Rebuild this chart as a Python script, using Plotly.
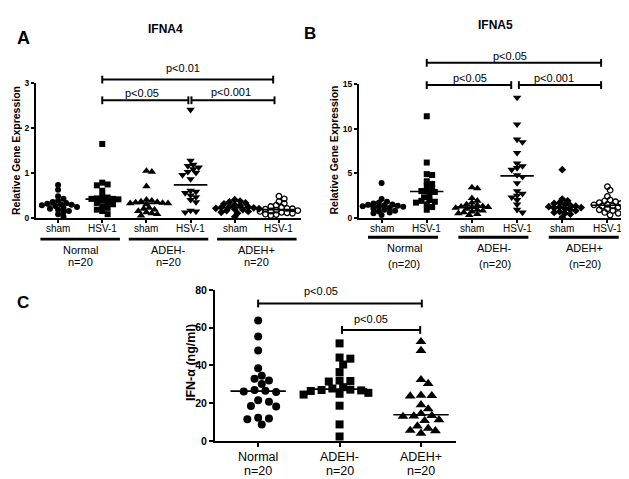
import numpy as np
import plotly.graph_objects as go

W, H = 629, 479
FONT = "Liberation Sans"

# ---------------- data ----------------
conditions = ["sham", "HSV-1"]
groups = ["Normal", "ADEH-", "ADEH+"]
n_labels_A = ["n=20", "n=20", "n=20"]
n_labels_B = ["(n=20)", "(n=20)", "(n=20)"]
c_groups = ["Normal", "ADEH-", "ADEH+"]
c_n = ["n=20", "n=20", "n=20"]

# Panel A: IFNA4 relative gene expression
ifna4_normal_sham = [0.73, 0.62, 0.48, 0.42, 0.38, 0.35, 0.33, 0.31, 0.30, 0.29,
                     0.28, 0.26, 0.24, 0.22, 0.20, 0.18, 0.15, 0.12, 0.08, 0.02]
ifna4_normal_hsv = [1.64, 0.78, 0.74, 0.72, 0.60, 0.48, 0.45, 0.43, 0.42, 0.42,
                    0.41, 0.38, 0.35, 0.33, 0.30, 0.25, 0.22, 0.18, 0.15, 0.08]
ifna4_adehm_sham = [1.04, 1.02, 0.70, 0.40, 0.38, 0.36, 0.35, 0.34, 0.33, 0.32,
                    0.32, 0.30, 0.22, 0.20, 0.18, 0.15, 0.12, 0.10, 0.08, 0.05]
ifna4_adehm_hsv = [2.40, 1.27, 1.18, 1.15, 1.12, 1.08, 1.02, 1.00, 0.95, 0.86,
                   0.60, 0.58, 0.55, 0.50, 0.46, 0.40, 0.35, 0.16, 0.14, 0.12]
ifna4_adehp_sham = [0.40, 0.37, 0.35, 0.33, 0.31, 0.29, 0.27, 0.25, 0.24, 0.23,
                    0.22, 0.21, 0.20, 0.19, 0.18, 0.16, 0.14, 0.12, 0.10, 0.02]
ifna4_adehp_hsv = [0.48, 0.42, 0.36, 0.32, 0.28, 0.25, 0.23, 0.21, 0.20, 0.19,
                   0.17, 0.16, 0.15, 0.14, 0.12, 0.11, 0.10, 0.08, 0.07, 0.05]

# Panel B: IFNA5 relative gene expression
ifna5_normal_sham = [3.9, 2.1, 1.8, 1.7, 1.6, 1.5, 1.45, 1.4, 1.35, 1.3,
                     1.25, 1.2, 1.1, 1.0, 0.9, 0.8, 0.7, 0.6, 0.5, 0.3]
ifna5_normal_hsv = [11.4, 6.2, 4.9, 4.8, 4.1, 3.8, 3.6, 3.3, 3.0, 3.0,
                    2.9, 2.6, 2.3, 2.0, 1.9, 1.8, 1.7, 1.5, 1.2, 0.9]
ifna5_adehm_sham = [3.4, 3.3, 2.2, 1.9, 1.7, 1.5, 1.4, 1.3, 1.25, 1.2,
                    1.2, 1.1, 1.0, 0.9, 0.8, 0.7, 0.6, 0.5, 0.4, 0.3]
ifna5_adehm_hsv = [13.5, 10.5, 8.8, 8.5, 7.3, 6.1, 5.8, 5.6, 5.4, 4.8,
                   4.6, 3.9, 3.0, 2.7, 2.5, 2.3, 2.0, 1.5, 0.9, 0.6]
ifna5_adehp_sham = [5.4, 2.1, 1.9, 1.7, 1.6, 1.5, 1.4, 1.3, 1.25, 1.2,
                    1.15, 1.1, 1.0, 0.9, 0.8, 0.7, 0.6, 0.5, 0.4, 0.05]
ifna5_adehp_hsv = [3.5, 3.1, 2.4, 2.0, 1.9, 1.8, 1.7, 1.6, 1.5, 1.45,
                   1.35, 1.3, 1.2, 1.1, 1.0, 0.9, 0.8, 0.6, 0.5, 0.3]

# Panel C: IFN-alpha protein (ng/ml)
ifn_normal = [63.8, 55.3, 47.9, 38.5, 34.6, 33.0, 32.0, 30.2, 27.0, 26.6,
              26.2, 26.0, 21.6, 20.8, 18.5, 18.3, 12.3, 11.9, 11.5, 8.8]
ifn_adehm = [51.7, 44.2, 43.6, 40.5, 36.5, 32.0, 31.8, 31.5, 28.5, 27.8,
             27.2, 27.0, 26.8, 26.5, 25.5, 25.0, 24.6, 18.7, 8.8, 2.4]
ifn_adehp = [52.6, 47.9, 32.5, 30.4, 24.2, 24.0, 23.8, 19.2, 17.0, 14.5,
             13.4, 13.2, 13.0, 11.2, 10.8, 7.9, 6.7, 5.6, 5.4, 4.1]

ticks_A = [0, 1, 2, 3]
ticks_B = [0, 5, 10, 15]
ticks_C = [0, 20, 40, 60, 80]

series_A = [ifna4_normal_sham, ifna4_normal_hsv, ifna4_adehm_sham,
            ifna4_adehm_hsv, ifna4_adehp_sham, ifna4_adehp_hsv]
series_B = [ifna5_normal_sham, ifna5_normal_hsv, ifna5_adehm_sham,
            ifna5_adehm_hsv, ifna5_adehp_sham, ifna5_adehp_hsv]
series_C = [ifn_normal, ifn_adehm, ifn_adehp]

# ---------------- layout geometry (pixels) ----------------
panels = {
    "A": dict(x0=28, x1=293, top=70.5, bot=209, xr=(-0.5, 5.5), yr=(0, 3), ax="", msize=6),
    "B": dict(x0=351, x1=622, top=72, bot=209, xr=(-0.5, 5.5), yr=(0, 15), ax="2", msize=6),
    "C": dict(x0=207, x1=448, top=283, bot=438, xr=(-0.53, 2.43), yr=(0, 80), ax="3", msize=8),
}


def xpx(p, x):
    return p["x0"] + (x - p["xr"][0]) / (p["xr"][1] - p["xr"][0]) * (p["x1"] - p["x0"])


def ypx(p, y):
    return p["bot"] - (y - p["yr"][0]) / (p["yr"][1] - p["yr"][0]) * (p["bot"] - p["top"])


def PX(v):
    return v / W


def PY(v):
    return 1 - v / H


def swarm(vals, d, ppu_x, ppu_y, sep):
    vals = np.asarray(vals, float)
    order = np.argsort(-vals)
    placed = []
    offs = np.zeros(len(vals))
    step = d * 0.45
    cands = [0.0]
    for k in range(1, 40):
        cands += [k * step, -k * step]
    for i in order:
        y = vals[i] * ppu_y
        c = 0.0
        for c in cands:
            if all((c - ox) ** 2 + (y - oy) ** 2 >= (d * sep) ** 2 for ox, oy in placed):
                break
        placed.append((c, y))
        offs[i] = c
    return offs / ppu_x


symbols6 = ["circle", "square", "triangle-up", "triangle-down", "diamond", "circle-open"]
symbols3 = ["circle", "square", "triangle-up"]

fig = go.Figure()
shapes = []
annotations = []


def add_points(pname, series, symbols, half, sep):
    p = panels[pname]
    ppu_x = (p["x1"] - p["x0"]) / (p["xr"][1] - p["xr"][0])
    ppu_y = (p["bot"] - p["top"]) / (p["yr"][1] - p["yr"][0])
    d = p["msize"]
    for i, vals in enumerate(series):
        offs = swarm(vals, d, ppu_x, ppu_y, sep)
        sym = symbols[i]
        is_open = sym.endswith("open")
        tri = sym.startswith("triangle")
        fig.add_trace(go.Scatter(
            x=i + offs, y=vals, mode="markers",
            xaxis="x" + p["ax"], yaxis="y" + p["ax"], cliponaxis=False,
            marker=dict(symbol=sym, size=d + (1.5 if tri else 0) - (0.5 if is_open else 0),
                        color="black",
                        line=dict(width=1.3 if is_open else 0, color="black")),
            hoverinfo="skip"))
        med = float(np.median(vals))
        fig.add_trace(go.Scatter(
            x=[i - half, i + half], y=[med, med], mode="lines",
            xaxis="x" + p["ax"], yaxis="y" + p["ax"],
            line=dict(color="black", width=1.6), hoverinfo="skip"))


add_points("A", series_A, symbols6, 0.38, 0.72)
add_points("B", series_B, symbols6, 0.37, 0.72)
add_points("C", series_C, symbols3, 0.34, 0.95)


def line(x0, y0, x1, y1, w=2):
    shapes.append(dict(type="line", xref="paper", yref="paper",
                       x0=PX(x0), y0=PY(y0), x1=PX(x1), y1=PY(y1),
                       line=dict(color="black", width=w)))


def text(x, y, s, size, bold=False, angle=0):
    annotations.append(dict(xref="paper", yref="paper", x=PX(x), y=PY(y),
                            text=s, showarrow=False, xanchor="center", yanchor="middle",
                            textangle=angle,
                            font=dict(family=FONT, size=size, color="black",
                                      weight="bold" if bold else "normal")))


def bracket(pname, xa, xb, yv, label, lx, dy, cap=4):
    p = panels[pname]
    X0, X1, Y = xpx(p, xa), xpx(p, xb), ypx(p, yv)
    line(X0, Y, X1, Y, 2)
    line(X0, Y - cap, X0, Y + cap, 2)
    line(X1, Y - cap, X1, Y + cap, 2)
    text(xpx(p, lx), Y + dy, label, 11)


# significance brackets
bracket("A", 1.0, 4.87, 3.07, "p<0.01", 2.83, -12)
bracket("A", 1.0, 2.95, 2.61, "p<0.05", 1.90, -7)
bracket("A", 3.02, 4.90, 2.61, "p<0.001", 3.91, -8)
bracket("B", 1.0, 4.86, 17.4, "p<0.05", 2.84, -7.5)
bracket("B", 1.0, 2.87, 14.9, "p<0.05", 1.96, -7.5)
bracket("B", 3.04, 4.86, 14.9, "p<0.001", 3.82, -7.5)
bracket("C", 0.0, 2.01, 72.8, "p<0.05", 0.77, -13)
bracket("C", 1.03, 1.99, 58.8, "p<0.05", 1.386, -11.5)

# category labels and group underlines for A and B
for pname, nlab, bar_lo, bar_hi, bar_y, g_y1, g_y2 in [
        ("A", n_labels_A, 0.4, 1.4, 231, 242, 254.5),
        ("B", n_labels_B, 0.3, 1.25, 229, 240.5, 256)]:
    p = panels[pname]
    for i in range(6):
        text(xpx(p, i), 220, conditions[i % 2], 10)
    for g in range(3):
        line(xpx(p, 2 * g - bar_lo), bar_y, xpx(p, 2 * g + bar_hi), bar_y, 2.8)
        text(xpx(p, 2 * g + 0.5), g_y1, groups[g], 11)
        text(xpx(p, 2 * g + 0.5), g_y2, nlab[g], 11)

pc = panels["C"]
for g in range(3):
    text(xpx(pc, g), 454, c_groups[g], 12.5)
    text(xpx(pc, g), 468.5, c_n[g], 12.5)

# titles, panel letters, axis titles
text(158, 15.5, "IFNA4", 12, bold=True)
text(487, 11.5, "IFNA5", 12, bold=True)
text(15, 25, "A", 18, bold=True)
text(302, 20.5, "B", 17, bold=True)
text(15, 296, "C", 17, bold=True)
text(8.5, 140, "Relative Gene Expression", 10.5, bold=True, angle=-90)
text(326, 140, "Relative Gene Expression", 10.5, bold=True, angle=-90)
text(183, 358, "IFN-α (ng/ml)", 12.5, bold=True, angle=-90)


def axis_pair(pname, yt, ysize, xtl):
    p = panels[pname]
    xa = dict(domain=[PX(p["x0"]), PX(p["x1"])], range=list(p["xr"]),
              anchor="y" + p["ax"], showline=True, linecolor="black", linewidth=2,
              ticks="outside", ticklen=xtl, tickwidth=1.5, tickcolor="black",
              tickvals=list(range(6 if pname != "C" else 3)),
              showticklabels=False, showgrid=False, zeroline=False, fixedrange=True)
    ya = dict(domain=[PY(p["bot"]), PY(p["top"])], range=list(p["yr"]),
              anchor="x" + p["ax"], showline=True, linecolor="black", linewidth=2,
              ticks="outside", ticklen=3 if pname != "C" else 4, tickwidth=1.5,
              tickcolor="black", tickvals=yt, ticktext=[str(t) for t in yt],
              tickfont=dict(family=FONT, size=ysize, color="black", weight="bold"),
              showgrid=False, zeroline=False, fixedrange=True)
    return xa, ya


xa1, ya1 = axis_pair("A", ticks_A, 8.5, 3)
xa2, ya2 = axis_pair("B", ticks_B, 8.5, 3)
xa3, ya3 = axis_pair("C", ticks_C, 10.5, 4)

fig.update_layout(
    width=W, height=H, margin=dict(l=0, r=0, t=0, b=0),
    paper_bgcolor="white", plot_bgcolor="white", showlegend=False,
    font=dict(family=FONT, color="black"),
    xaxis=xa1, yaxis=ya1, xaxis2=xa2, yaxis2=ya2, xaxis3=xa3, yaxis3=ya3,
    shapes=shapes, annotations=annotations,
)

fig.write_html("out.html")
